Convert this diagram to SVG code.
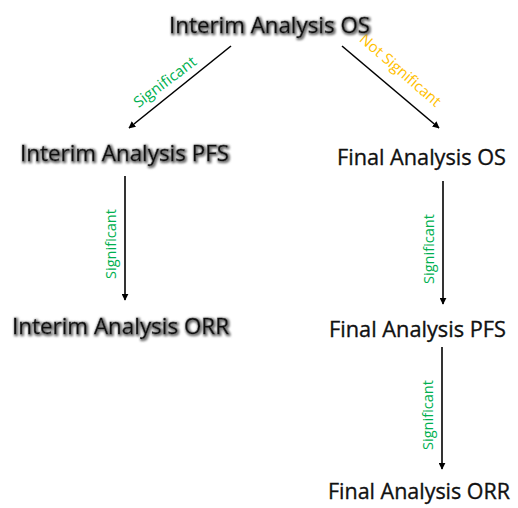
<svg xmlns="http://www.w3.org/2000/svg" width="518" height="508" viewBox="0 0 518 508">
  <style>
    .node { font-family: "Open Sans", "Noto Sans", "Liberation Sans", sans-serif; font-size: 22.5px; fill: #111; stroke: #111; stroke-width: 0.35; }
    .interim { filter: url(#shadow); }
    .lbl { font-family: "Open Sans", "Noto Sans", "Liberation Sans", sans-serif; font-size: 15px; }
    .sig { fill: #00B050; }
    .nsig { fill: #FFC000; }
    .edge { stroke: #000; stroke-width: 1.6; fill: none; marker-end: url(#arrow); }
  </style>
  <defs>
    <marker id="arrow" viewBox="0 0 10 10" refX="9" refY="5" markerWidth="7" markerHeight="7" markerUnits="userSpaceOnUse" orient="auto">
      <path d="M0,0 L10,5 L0,10 z" fill="#000"/>
    </marker>
    <filter id="shadow" x="-10%" y="-30%" width="120%" height="160%">
      <feMorphology in="SourceAlpha" operator="dilate" radius="0.6" result="thick"/>
      <feOffset in="thick" dx="1.2" dy="1.2" result="off"/>
      <feGaussianBlur in="off" stdDeviation="0.8" result="blur"/>
      <feFlood flood-color="#777"/>
      <feComposite in2="blur" operator="in" result="sh"/>
      <feMerge>
        <feMergeNode in="sh"/>
        <feMergeNode in="SourceGraphic"/>
      </feMerge>
    </filter>
  </defs>

  <g id="connectors">
    <line class="edge" x1="231" y1="46" x2="129" y2="128"/>
    <line class="edge" x1="342" y1="46" x2="439" y2="128"/>
    <line class="edge" x1="125" y1="176" x2="125" y2="300"/>
    <line class="edge" x1="443" y1="181" x2="443" y2="304"/>
    <line class="edge" x1="442" y1="347" x2="442" y2="469"/>
    <text class="lbl sig" transform="translate(168,86) rotate(-37)" text-anchor="middle" textLength="74" lengthAdjust="spacingAndGlyphs">Significant</text>
    <text class="lbl nsig" transform="translate(397,74) rotate(41)" text-anchor="middle" textLength="102" lengthAdjust="spacingAndGlyphs">Not Significant</text>
    <text class="lbl sig" transform="translate(116,244) rotate(-90)" text-anchor="middle" textLength="70" lengthAdjust="spacingAndGlyphs">Significant</text>
    <text class="lbl sig" transform="translate(434,249) rotate(-90)" text-anchor="middle" textLength="70" lengthAdjust="spacingAndGlyphs">Significant</text>
    <text class="lbl sig" transform="translate(433,415) rotate(-90)" text-anchor="middle" textLength="70" lengthAdjust="spacingAndGlyphs">Significant</text>
  </g>

  <g id="interim-os"><text class="node interim" x="169" y="33" textLength="201" lengthAdjust="spacingAndGlyphs">Interim Analysis OS</text></g>
  <g id="interim-pfs"><text class="node interim" x="20" y="161" textLength="209" lengthAdjust="spacingAndGlyphs">Interim Analysis PFS</text></g>
  <g id="interim-orr"><text class="node interim" x="12" y="334" textLength="217" lengthAdjust="spacingAndGlyphs">Interim Analysis ORR</text></g>
  <g id="final-os"><text class="node" x="337" y="165" textLength="169" lengthAdjust="spacingAndGlyphs">Final Analysis OS</text></g>
  <g id="final-pfs"><text class="node" x="329" y="337" textLength="177" lengthAdjust="spacingAndGlyphs">Final Analysis PFS</text></g>
  <g id="final-orr"><text class="node" x="328" y="499" font-size="22" textLength="182" lengthAdjust="spacingAndGlyphs">Final Analysis ORR</text></g>
</svg>
